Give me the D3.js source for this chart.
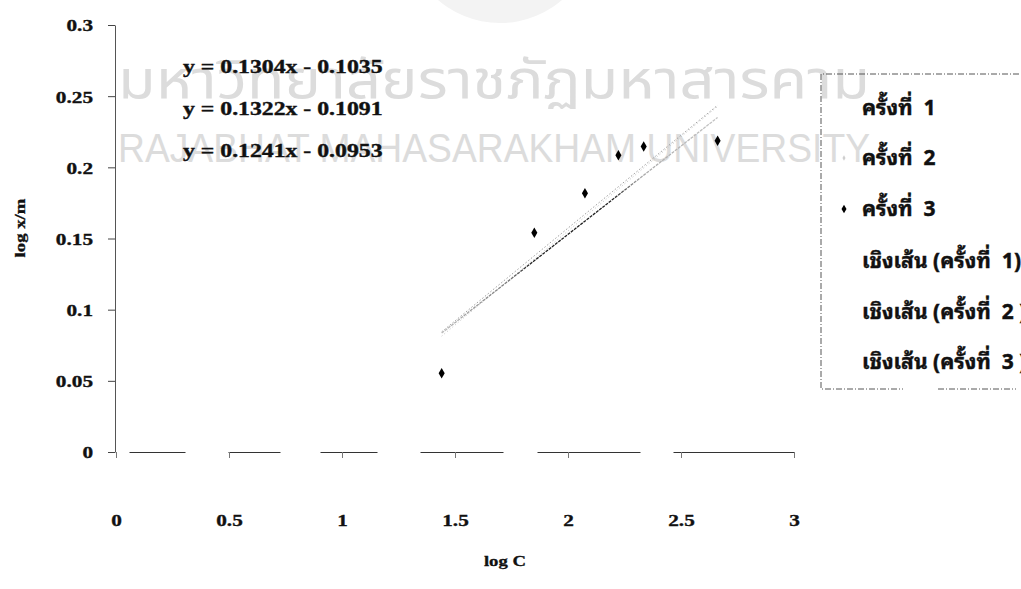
<!DOCTYPE html>
<html>
<head>
<meta charset="utf-8">
<script src="https://cdn.jsdelivr.net/npm/d3@7"></script>
<style>
  body { margin: 0; background: #fff; }
  svg { display: block; }
</style>
</head>
<body>
<svg id="chart" width="1021" height="589"></svg>
<script>
// ---- data ----
const xTicks = [0, 0.5, 1, 1.5, 2, 2.5, 3];
const yTicks = [0, 0.05, 0.1, 0.15, 0.2, 0.25, 0.3];
const logC = [1.441, 1.851, 2.075, 2.223, 2.335, 2.662];
const run1 = [0.0560, 0.1530, 0.1805, 0.2075, 0.2140, 0.2180];
const run2 = [0.0545, 0.1535, 0.1812, 0.2080, 0.2142, 0.2183];
const run3 = [0.0553, 0.1541, 0.1818, 0.2085, 0.2146, 0.2186];
const fitSlopes = [0.1304, 0.1322, 0.1241];
const fitIntercepts = [-0.1035, -0.1091, -0.0953];
const seriesNames = ["ครั้งที่  1", "ครั้งที่  2", "ครั้งที่  3"];
const fitNames = ["เชิงเส้น (ครั้งที่  1)", "เชิงเส้น (ครั้งที่  2 )", "เชิงเส้น (ครั้งที่  3 )"];
const watermarkTh = "มหาวิทยาลัยราชภัฏมหาสารคาม";
const watermarkEn = "RAJABHAT MAHASARAKHAM UNIVERSITY";

const svg = d3.select("#chart");
const serif = "'Liberation Serif', 'Times New Roman', serif";
const thaiLegend = "'Noto Sans Thai Looped', 'Noto Serif Thai', 'Norasi', 'Kinnari', 'Garuda', 'Noto Sans Thai', 'Loma', 'DejaVu Sans', sans-serif";
const thaiMark = "'Noto Sans Thai', 'Loma', 'Garuda', 'DejaVu Sans', sans-serif";
const SX = 1.25; // horizontal stretch of the printed lettering
const ink = "#111";

const x = d3.scaleLinear().domain([0, 3]).range([116, 794]);
const y = d3.scaleLinear().domain([0, 0.3]).range([452, 25]);

// ---- watermark ----
const wm = svg.append("g").attr("class", "watermark");
wm.append("circle").attr("cx", 500).attr("cy", -72).attr("r", 95).attr("fill", "#f3f3f3");
wm.append("text").attr("x", 118).attr("y", 98)
  .attr("font-family", thaiMark).attr("font-size", 53).attr("fill", "#dcdcdc")
  .attr("textLength", 752).attr("lengthAdjust", "spacingAndGlyphs")
  .text(watermarkTh);
wm.append("text").attr("x", 118).attr("y", 162)
  .attr("font-family", "'Liberation Sans', Arial, sans-serif").attr("font-size", 41).attr("fill", "#dcdcdc")
  .attr("textLength", 752).attr("lengthAdjust", "spacingAndGlyphs")
  .text(watermarkEn);

// ---- axes ----
const yAxis = svg.append("g").attr("transform", `translate(${x(0) - 1},0)`)
  .call(d3.axisLeft(y).tickValues(yTicks).tickSize(7).tickSizeOuter(0)
        .tickFormat(d => String(+d.toFixed(2))));
yAxis.select(".domain").attr("stroke", "#555");
yAxis.selectAll(".tick line").attr("stroke", "#444");
yAxis.selectAll(".tick text")
  .attr("font-family", serif).attr("font-weight", "bold").attr("font-size", 17)
  .attr("fill", ink).attr("stroke", ink).attr("stroke-width", 0.35)
  .attr("x", -22 / SX).attr("dy", "0.35em")
  .attr("transform", `scale(${SX},1)`);

const xAxis = svg.append("g").attr("transform", `translate(0,${y(0)})`)
  .call(d3.axisBottom(x).tickValues(xTicks).tickSize(6).tickSizeOuter(0)
        .tickFormat(d => String(d)));
// the baseline at y = 0 is printed as a broken rule
xAxis.select(".domain").attr("stroke", "#333")
  .attr("stroke-dasharray", "0,13,56,43,52,40,57,43,83,34,103,33,122,40");
xAxis.selectAll(".tick line").attr("stroke", "#777");
xAxis.selectAll(".tick text")
  .attr("font-family", serif).attr("font-weight", "bold").attr("font-size", 17)
  .attr("fill", ink).attr("stroke", ink).attr("stroke-width", 0.35)
  .attr("y", 68).attr("dy", "0.35em")
  .attr("transform", `scale(${SX},1)`);

// axis titles
svg.append("text")
  .attr("transform", `translate(25,228) rotate(-90) scale(${SX},1)`)
  .attr("text-anchor", "middle")
  .attr("font-family", serif).attr("font-weight", "bold").attr("font-size", 15)
  .attr("fill", ink).attr("stroke", ink).attr("stroke-width", 0.3)
  .text("log x/m");
svg.append("text")
  .attr("transform", `translate(505,566) scale(${SX},1)`)
  .attr("text-anchor", "middle")
  .attr("font-family", serif).attr("font-weight", "bold").attr("font-size", 15)
  .attr("fill", ink).attr("stroke", ink).attr("stroke-width", 0.3)
  .text("log C");

// ---- linear fits ----
const [xMin, xMax] = d3.extent(logC);
const defs = svg.append("defs");
const grad = defs.append("linearGradient").attr("id", "fitShade")
  .attr("gradientUnits", "userSpaceOnUse")
  .attr("x1", x(xMin)).attr("x2", x(xMax)).attr("y1", 0).attr("y2", 0);
[[0, "#bdbdbd"], [0.25, "#777"], [0.32, "#222"], [0.62, "#222"], [0.72, "#aaa"], [1, "#c4c4c4"]]
  .forEach(([o, c]) => grad.append("stop").attr("offset", o).attr("stop-color", c));
const fitStyles = [
  { stroke: "#a0a0a0", dash: "1.5,2", width: 1 },
  { stroke: "#c2c2c2", dash: "1,2.5", width: 1 },
  { stroke: "url(#fitShade)", dash: "3,1", width: 1.3 }
];
const line = d3.line().x(d => x(d[0])).y(d => y(d[1]));
fitSlopes.forEach((m, i) => {
  const b = fitIntercepts[i];
  const pts = [[xMin, m * xMin + b], [xMax, m * xMax + b]];
  svg.append("path").attr("d", line(pts)).attr("fill", "none")
    .attr("stroke", fitStyles[i].stroke).attr("stroke-width", fitStyles[i].width)
    .attr("stroke-dasharray", fitStyles[i].dash);
});

// ---- measured points ----
const runs = [run1, run2, run3];
const markerFill = ["#f4f4f4", "#e2e2e2", "#000"];
runs.forEach((vals, i) => {
  svg.append("g").selectAll("path")
    .data(vals.map((v, k) => [logC[k], v]))
    .join("path")
    .attr("transform", d => `translate(${x(d[0])},${y(d[1])})`)
    .attr("d", d3.symbol().type(d3.symbolDiamond).size(i === 2 ? 32 : 12))
    .attr("fill", markerFill[i]);
});

// ---- fit equations ----
const eqs = fitSlopes.map((m, i) => `y = ${m.toFixed(4)}x - ${Math.abs(fitIntercepts[i]).toFixed(4)}`);
const eqY = [66, 108, 150];
eqs.forEach((s, i) => {
  svg.append("text")
    .attr("transform", `translate(183,${eqY[i]}) scale(${SX},1)`)
    .attr("dy", "0.35em")
    .attr("font-family", serif).attr("font-weight", "bold").attr("font-size", 19)
    .attr("fill", ink).attr("stroke", ink).attr("stroke-width", 0.4)
    .text(s);
});

// ---- legend ----
const lg = svg.append("g");
lg.append("path")
  .attr("d", "M1030,74 H821 V389 H903 M938,389 H1016")
  .attr("fill", "none").attr("stroke", "#555").attr("stroke-dasharray", "6,2,1,2");
const legendY = [108, 158, 209, 261, 312, 362];
const legendItems = seriesNames.concat(fitNames);
legendItems.forEach((t, i) => {
  lg.append("text").attr("x", 862).attr("y", legendY[i]).attr("dy", "0.35em")
    .attr("font-family", thaiLegend).attr("font-weight", "bold").attr("font-size", 21)
    .attr("fill", ink).attr("stroke", ink).attr("stroke-width", 0.4)
    .style("white-space", "pre")
    .text(t);
});
lg.append("path").attr("transform", `translate(844,${legendY[1]})`)
  .attr("d", d3.symbol().type(d3.symbolDiamond).size(8)).attr("fill", "#cfcfcf");
lg.append("path").attr("transform", `translate(844,${legendY[2]})`)
  .attr("d", d3.symbol().type(d3.symbolDiamond).size(22)).attr("fill", "#000");
</script>
</body>
</html>
